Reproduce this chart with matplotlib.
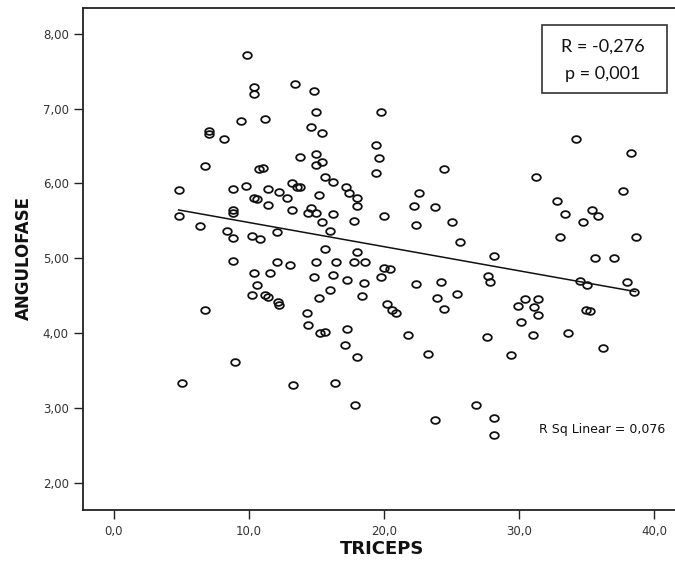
import numpy as np
import matplotlib
matplotlib.use('Agg')
import matplotlib.pyplot as plt
from matplotlib.patches import Rectangle
from matplotlib.path import Path

# ---------------- data ----------------
triceps = [
    9.84, 10.38, 10.38, 9.42, 11.21, 7.02, 7.02, 8.18, 6.78, 10.75, 11.02, 4.80,
    8.80, 9.81, 11.41, 12.23, 10.38, 10.58, 11.41, 8.80, 8.80, 4.80, 6.38, 8.38,
    8.80, 10.21, 10.82, 12.06, 8.80, 12.06, 10.38, 11.58, 10.62, 10.21, 11.19,
    11.41, 12.13, 12.25, 6.78, 9.00, 5.03,
    13.41, 14.82, 14.99, 19.79, 14.59, 15.41, 19.40, 19.60, 13.80, 14.99, 15.41,
    14.99, 19.40, 24.41, 15.61, 16.22, 13.21, 13.56, 13.76, 17.20, 12.82, 17.40,
    18.02, 15.21, 22.60, 18.00, 22.19, 23.79, 13.21, 14.59, 14.35, 14.99, 16.22,
    19.99, 15.41, 17.80, 22.38, 25.00, 16.02, 25.61, 15.61, 18.00,
    13.04, 14.96, 14.81, 16.22, 16.44, 17.77, 18.59, 19.99, 20.44, 19.77, 17.26,
    18.51, 15.99, 15.18, 18.37, 14.30, 14.37, 15.26, 15.63, 17.26, 17.11, 18.00,
    16.37, 13.26, 17.85, 20.21, 20.58, 20.88, 21.77, 22.36, 24.21, 23.91, 24.43,
    25.39, 23.25, 23.76,
    26.8, 27.6, 27.7, 27.8, 28.1, 28.1, 28.1, 29.4, 29.9, 30.1, 30.4, 31.1, 31.0,
    31.2, 31.4, 31.4, 32.8, 33.0, 33.4, 33.6, 34.2, 34.5, 34.7, 34.9, 35.0, 35.2,
    35.4, 35.8, 35.6, 36.2, 37.0, 37.7, 38.0, 38.3, 38.6, 38.5,
]
angulofase = [
    7.72, 7.29, 7.19, 6.83, 6.86, 6.70, 6.66, 6.59, 6.23, 6.19, 6.21, 5.91,
    5.92, 5.96, 5.93, 5.89, 5.81, 5.79, 5.71, 5.65, 5.60, 5.57, 5.43, 5.36,
    5.27, 5.30, 5.26, 5.35, 4.96, 4.95, 4.81, 4.81, 4.65, 4.51, 4.51,
    4.49, 4.42, 4.38, 4.31, 3.62, 3.34,
    7.33, 7.24, 6.95, 6.96, 6.76, 6.68, 6.52, 6.34, 6.35, 6.39, 6.28,
    6.24, 6.14, 6.19, 6.09, 6.02, 6.01, 5.95, 5.95, 5.95, 5.81, 5.87,
    5.80, 5.84, 5.87, 5.70, 5.70, 5.69, 5.64, 5.67, 5.60, 5.60, 5.59,
    5.56, 5.48, 5.50, 5.45, 5.48, 5.36, 5.22, 5.12, 5.09,
    4.91, 4.95, 4.75, 4.78, 4.95, 4.95, 4.95, 4.87, 4.86, 4.75, 4.71,
    4.67, 4.58, 4.47, 4.50, 4.27, 4.11, 4.00, 4.02, 4.06, 3.84, 3.68,
    3.34, 3.31, 3.04, 4.39, 4.31, 4.27, 3.98, 4.66, 4.68, 4.47, 4.32,
    4.52, 3.72, 2.84,
    3.04, 3.95, 4.77, 4.68, 5.03, 2.87, 2.64, 3.71, 4.36, 4.15, 4.46, 4.35, 3.98,
    6.08, 4.46, 4.24, 5.76, 5.28, 5.59, 4.00, 6.59, 4.70, 5.49, 4.31, 4.64, 4.30,
    5.65, 5.57, 5.00, 3.80, 5.01, 5.90, 4.68, 6.40, 5.28, 4.55,
]

x_ticks = [0, 10, 20, 30, 40]
x_tick_labels = ['0,0', '10,0', '20,0', '30,0', '40,0']
y_ticks = [2, 3, 4, 5, 6, 7, 8]
y_tick_labels = ['2,00', '3,00', '4,00', '5,00', '6,00', '7,00', '8,00']
x_label = 'TRICEPS'
y_label = 'ANGULOFASE'
r_text = 'R = -0,276'
p_text = 'p = 0,001'
rsq_text = 'R Sq Linear = 0,076'

# ---------------- figure ----------------
W, H = 675, 562
fig = plt.figure(figsize=(W / 100, H / 100), dpi=100)
fig.patch.set_facecolor('white')

left_px, right_px, top_px, bottom_px = 83.3, 688.0, 8.3, 510.0
ax = fig.add_axes([left_px / W, 1 - bottom_px / H,
                   (right_px - left_px) / W, (bottom_px - top_px) / H])
ax.set_xlim(-2.25, 42.48)
ax.set_ylim(1.644, 8.337)

# slightly flattened open circle marker (the reference is stretched)
t = np.linspace(0, 2 * np.pi, 64)
ell = Path(np.column_stack([np.cos(t), 0.78 * np.sin(t)]), closed=True)

x = np.asarray(triceps)
y = np.asarray(angulofase)
ax.plot(x, y, linestyle='none', marker=ell, markersize=6.2,
        markerfacecolor='none', markeredgecolor='#111111', markeredgewidth=1.3,
        zorder=3)

# linear fit line
slope, intercept = np.polyfit(x, y, 1)
xf = np.array([x.min(), x.max()])
ax.plot(xf, intercept + slope * xf, color='#111111', linewidth=1.1, zorder=2)

ax.set_xticks(x_ticks)
ax.set_xticklabels(x_tick_labels)
ax.set_yticks(y_ticks)
ax.set_yticklabels(y_tick_labels)
ax.tick_params(direction='out', length=6.5, width=1.0, pad=4,
               labelsize=8.5, labelcolor='#333333', color='#222222')
for lab in ax.get_xticklabels() + ax.get_yticklabels():
    lab.set_family('DejaVu Sans')

for s in ax.spines.values():
    s.set_linewidth(1.3)
    s.set_color('#222222')

fig.text(382 / W, 1 - 549 / H, x_label, ha='center', va='center',
         fontsize=13, fontweight='bold', family='DejaVu Sans', color='#111111')
fig.text(24 / W, 1 - 258 / H, y_label, ha='center', va='center', rotation=90,
         fontsize=12, fontweight='bold', family='DejaVu Sans', color='#111111')

# R / p box
bx0, bx1, by0, by1 = 541.7, 666.7, 25.0, 92.7
fig.patches.append(Rectangle((bx0 / W, 1 - by1 / H), (bx1 - bx0) / W, (by1 - by0) / H,
                             transform=fig.transFigure, fill=False,
                             edgecolor='#333333', linewidth=1.2))
fig.text(603 / W, 1 - 47 / H, r_text, ha='center', va='center',
         fontsize=13, family='Lato', color='#111111')
fig.text(603 / W, 1 - 74 / H, p_text, ha='center', va='center',
         fontsize=13, family='Lato', color='#111111')

fig.text(539 / W, 1 - 430 / H, rsq_text, ha='left', va='center',
         fontsize=9, family='DejaVu Sans', color='#111111')

fig.savefig('out.png', dpi=100, facecolor='white')
